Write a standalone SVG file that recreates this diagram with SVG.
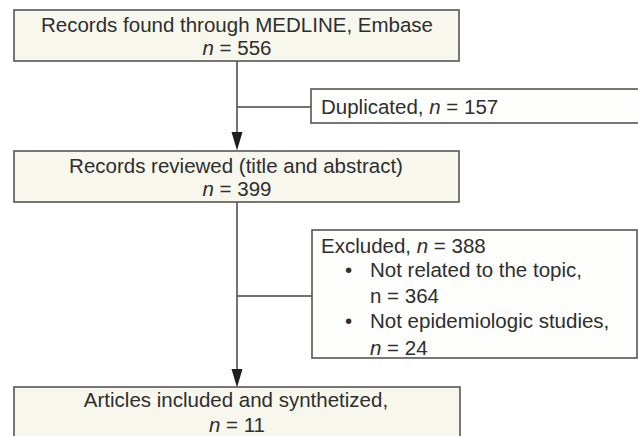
<svg xmlns="http://www.w3.org/2000/svg" width="638" height="436" viewBox="0 0 638 436">
<style>
.main{fill:#f7f7ed;stroke:#555;stroke-width:1.6}
.side{fill:#fefefc;stroke:#555;stroke-width:1.6}
text{font-family:"Liberation Sans",Arial,sans-serif;font-size:20.5px;fill:#2e2e2e}
.c{text-anchor:middle}
.i{font-style:italic}
.ln{stroke:#444;stroke-width:1.5;fill:none}
.ah{fill:#1e1e1e}
</style>
<rect width="638" height="436" fill="#fff"/>
<g id="connectors">
<line class="ln" x1="237" y1="61" x2="237" y2="134"/>
<path class="ah" d="M231.5,132 L242.5,132 L237,150.5 Z"/>
<line class="ln" x1="237" y1="107" x2="311" y2="107"/>
<line class="ln" x1="237" y1="202" x2="237" y2="371"/>
<path class="ah" d="M231.5,369 L242.5,369 L237,387.5 Z"/>
<line class="ln" x1="237" y1="296" x2="312" y2="296"/>
</g>
<g id="records-found">
<rect class="main" x="14" y="10" width="445" height="51"/>
<text class="c" x="237" y="32">Records found through MEDLINE, Embase</text>
<text class="c" x="237" y="55"><tspan class="i">n</tspan> = 556</text>
</g>
<g id="duplicated">
<rect class="side" x="311" y="89" width="330" height="34"/>
<text x="321" y="114">Duplicated, <tspan class="i">n</tspan> = 157</text>
</g>
<g id="records-reviewed">
<rect class="main" x="14" y="151" width="445" height="51"/>
<text class="c" x="236" y="172.5">Records reviewed (title and abstract)</text>
<text class="c" x="237" y="196"><tspan class="i">n</tspan> = 399</text>
</g>
<g id="excluded">
<rect class="side" x="312" y="230" width="325" height="128"/>
<text x="321" y="253">Excluded, <tspan class="i">n</tspan> = 388</text>
<text x="345" y="277">•</text>
<text x="370" y="277">Not related to the topic,</text>
<text x="370" y="303">n = 364</text>
<text x="345" y="328">•</text>
<text x="370" y="328">Not epidemiologic studies,</text>
<text x="370" y="355"><tspan class="i">n</tspan> = 24</text>
</g>
<g id="articles-included">
<rect class="main" x="14" y="387" width="446" height="60"/>
<text class="c" x="236" y="407">Articles included and synthetized,</text>
<text class="c" x="237" y="432"><tspan class="i">n</tspan> = 11</text>
</g>
</svg>
